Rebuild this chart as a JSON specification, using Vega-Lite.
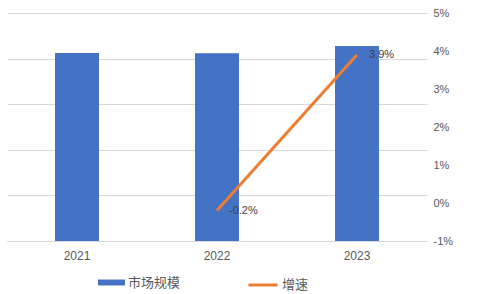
{
  "$schema": "https://vega.github.io/schema/vega-lite/v6.json",
  "width": 420,
  "height": 228,
  "autosize": {"type": "none"},
  "padding": {"left": 7, "top": 13, "right": 50, "bottom": 53},
  "background": "white",
  "config": {"view": {"stroke": null}, "font": "Liberation Sans, Noto Sans CJK SC"},
  "data": {
    "values": [
      {"year": "2021", "size": 4123, "growth": null, "glabel": null, "s": "市场规模", "g": "增速"},
      {"year": "2022", "size": 4115, "growth": -0.2, "glabel": "-0.2%", "s": "市场规模", "g": "增速"},
      {"year": "2023", "size": 4276, "growth": 3.9, "glabel": "3.9%", "s": "市场规模", "g": "增速"}
    ]
  },
  "encoding": {
    "x": {
      "field": "year", "type": "ordinal",
      "scale": {"paddingInner": 0.686, "paddingOuter": 0.343},
      "axis": {"title": null, "labelAngle": 0, "ticks": false, "domainColor": "#d9d9d9", "domainWidth": 1, "labelColor": "#595959", "labelFontSize": 12, "labelPadding": 9, "grid": false}
    }
  },
  "layer": [
    {
      "mark": {"type": "bar"},
      "encoding": {
        "y": {
          "field": "size", "type": "quantitative",
          "scale": {"domain": [0, 5000], "nice": false},
          "axis": {"orient": "left", "title": null, "labels": false, "ticks": false, "domain": false, "grid": true, "gridColor": "#d9d9d9", "gridWidth": 1, "values": [0, 1000, 2000, 3000, 4000, 5000]}
        },
        "color": {
          "field": "s", "type": "nominal",
          "scale": {"range": ["#4472C4"]},
          "legend": {"orient": "none", "legendX": 91, "legendY": 256, "direction": "horizontal", "title": null, "symbolType": "M-1,-0.22H1V0.22H-1Z", "symbolSize": 729, "symbolStrokeWidth": 0, "labelFontSize": 13, "labelColor": "#595959", "labelFont": "Noto Sans CJK SC", "labelOffset": 3}
        }
      }
    },
    {
      "transform": [{"filter": "datum.growth != null"}],
      "encoding": {
        "y": {
          "field": "growth", "type": "quantitative",
          "scale": {"domain": [-1, 5], "nice": false},
          "axis": {"orient": "right", "title": null, "ticks": false, "domain": false, "grid": false, "values": [-1, 0, 1, 2, 3, 4, 5], "labelExpr": "datum.value + '%'", "labelColor": "#595959", "labelFontSize": 11, "labelPadding": 6}
        }
      },
      "layer": [
        {
          "mark": {"type": "line", "strokeWidth": 3},
          "encoding": {
            "stroke": {
              "field": "g", "type": "nominal",
              "scale": {"range": ["#ED7D31"]},
              "legend": {"orient": "none", "legendX": 240, "legendY": 256, "direction": "horizontal", "title": null, "symbolType": "stroke", "symbolSize": 841, "symbolStrokeWidth": 3, "labelFontSize": 13, "labelColor": "#595959", "labelFont": "Noto Sans CJK SC", "labelOffset": 3}
            }
          }
        },
        {
          "mark": {"type": "text", "align": "left", "baseline": "middle", "dx": 12, "fontSize": 11, "color": "#404040"},
          "encoding": {"text": {"field": "glabel", "type": "nominal"}}
        }
      ]
    }
  ],
  "resolve": {"scale": {"y": "independent"}}
}
